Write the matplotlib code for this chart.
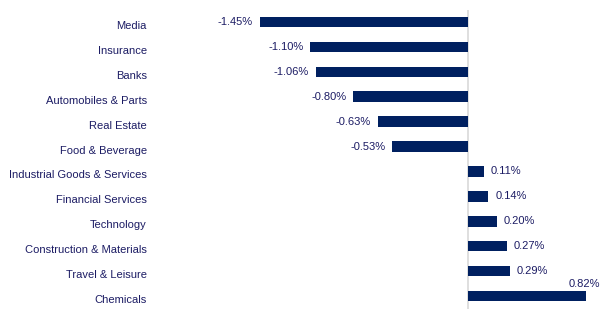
import matplotlib
matplotlib.use("Agg")
import matplotlib.pyplot as plt
import matplotlib.transforms as mtransforms

# sector returns (%)
sectors = ["Media", "Insurance", "Banks", "Automobiles & Parts", "Real Estate",
           "Food & Beverage", "Industrial Goods & Services", "Financial Services",
           "Technology", "Construction & Materials", "Travel & Leisure", "Chemicals"]
returns = [-1.45, -1.10, -1.06, -0.80, -0.63, -0.53, 0.11, 0.14, 0.20, 0.27, 0.29, 0.82]

navy = "#002060"
txt = "#1c1c64"
fs = 8.0
plt.rcParams['font.family'] = ['Liberation Sans', 'DejaVu Sans']

W, H = 612, 327
fig = plt.figure(figsize=(W / 100, H / 100), dpi=100)
# axes placed in pixel units: zero line at x~468, 143.6 px per 1%
left_px, right_px = 155, 605
top_px, bot_px = 9.5, 308.5
ax = fig.add_axes([left_px / W, 1 - bot_px / H, (right_px - left_px) / W, (bot_px - top_px) / H])
zero_px, scale = 468.3, 143.6
ax.set_xlim((left_px - zero_px) / scale, (right_px - zero_px) / scale)

y = list(range(len(sectors)))
ax.barh(y, returns, height=0.42, color=navy, zorder=2)
ax.axvline(0, color="#d9d9d9", lw=1.2, zorder=1)
ax.set_ylim(len(sectors) - 0.5, -0.5)

ax.set_yticks(y)
ax.set_yticklabels(sectors, fontsize=fs, color=txt)
ax.tick_params(axis="y", length=0, pad=5.8)
# category names sit a little below the bar centres
shift = mtransforms.ScaledTranslation(0, -3 / 100, fig.dpi_scale_trans)
for t in ax.get_yticklabels():
    t.set_transform(t.get_transform() + shift)
ax.set_xticks([])
for s in ax.spines.values():
    s.set_visible(False)

gap = 7 / scale
for i, v in enumerate(returns):
    lab = f"{v:.2f}%"
    if i == len(returns) - 1:
        ax.text(v - 0.015, i - 0.5, lab, ha="center", va="center", fontsize=fs, color=txt)
    elif v < 0:
        ax.text(v - gap, i, lab, ha="right", va="center", fontsize=fs, color=txt)
    else:
        ax.text(v + gap, i, lab, ha="left", va="center", fontsize=fs, color=txt)

fig.savefig("out.png", dpi=100)
